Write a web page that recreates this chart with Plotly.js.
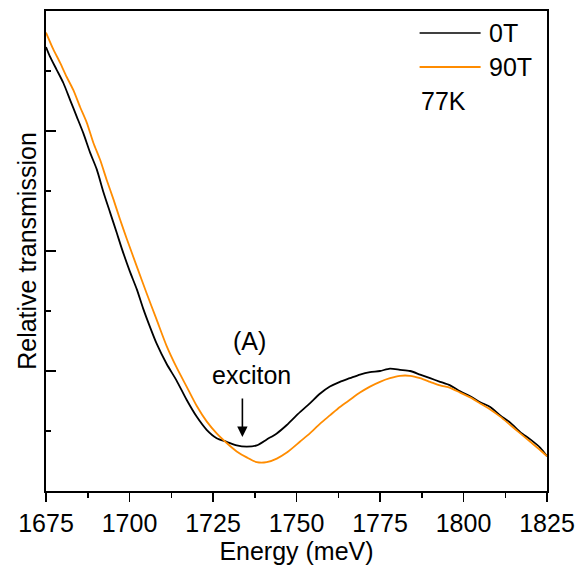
<!DOCTYPE html>
<html>
<head>
<meta charset="utf-8">
<script src="https://cdn.plot.ly/plotly-3.0.1.min.js"></script>
<style>html,body{margin:0;padding:0;background:#fff;}#chart{width:579px;height:566px;}</style>
</head>
<body>
<div id="chart"></div>
<script>
// Energy (meV) and relative transmission
var energy0T = [1675,1676.2,1678.2,1680.2,1682.2,1684.2,1686.2,1688.2,1690.2,1692.2,1694.2,1696.2,1697.7,1700.1,1702.2,1704.1,1706.1,1708.1,1711.1,1714.1,1717.1,1720.1,1723.1,1726.1,1729.1,1732.1,1735.1,1738.1,1741.1,1744.1,1747.1,1750,1754,1757,1760,1763,1766,1769,1772,1775,1778,1781,1784,1787,1790,1793,1796,1799,1802,1805,1808,1811,1814,1817,1820,1823,1825];
var trans0T = [3.70,3.62,3.51,3.40,3.26,3.12,2.98,2.82,2.68,2.49,2.32,2.15,2.02,1.83,1.68,1.52,1.37,1.23,1.06,0.92,0.76,0.62,0.51,0.44,0.41,0.38,0.37,0.38,0.43,0.48,0.55,0.63,0.73,0.81,0.87,0.91,0.94,0.97,0.99,1.00,1.02,1.01,1.00,0.97,0.94,0.91,0.88,0.83,0.79,0.74,0.70,0.63,0.57,0.49,0.43,0.36,0.29];
var energy90T = [1675,1677.2,1679.2,1681.2,1683.2,1685.2,1687.2,1689.2,1691.2,1693.2,1695.2,1697.2,1699.2,1702.2,1705.1,1708.1,1711.1,1714.1,1717.1,1720.1,1723.1,1726.1,1729.1,1732.1,1735.1,1738.1,1741.1,1744.1,1747.1,1751,1754,1757,1760,1763,1766,1769,1772,1775,1778,1781,1784,1787,1790,1793,1796,1799,1802,1805,1808,1811,1814,1817,1820,1823,1825];
var trans90T = [3.82,3.68,3.57,3.45,3.34,3.20,3.07,2.90,2.76,2.59,2.43,2.26,2.10,1.87,1.65,1.43,1.21,1.03,0.87,0.71,0.58,0.48,0.40,0.33,0.28,0.24,0.24,0.27,0.32,0.41,0.48,0.56,0.63,0.70,0.76,0.82,0.87,0.91,0.94,0.96,0.96,0.94,0.91,0.88,0.86,0.82,0.78,0.73,0.68,0.62,0.55,0.48,0.41,0.34,0.29];
var seriesNames = ['0T', '90T'];
var xTickVals = [1675,1700,1725,1750,1775,1800,1825];
var xTickText = ['1675','1700','1725','1750','1775','1800','1825'];

var FONT = 'Liberation Sans, Arial, sans-serif';
var C0 = '#000000', C1 = '#ff8c00';

var traces = [
  {x: energy0T, y: trans0T, type: 'scatter', mode: 'lines', name: seriesNames[0],
   line: {color: C0, width: 1.8, shape: 'spline', smoothing: 0.7}, showlegend: false},
  {x: energy90T, y: trans90T, type: 'scatter', mode: 'lines', name: seriesNames[1],
   line: {color: C1, width: 1.8, shape: 'spline', smoothing: 0.7}, showlegend: false}
];

var layout = {
  width: 579, height: 566,
  margin: {l: 46, r: 32, t: 11, b: 75},
  paper_bgcolor: '#fff', plot_bgcolor: '#fff',
  font: {family: FONT, size: 25, color: '#000'},
  showlegend: false,
  xaxis: {
    range: [1675, 1825], tickmode: 'array', tickvals: xTickVals, ticktext: xTickText,
    ticks: 'outside', ticklen: 9, tickwidth: 1.5, tickcolor: '#000',
    minor: {dtick: 12.5, ticks: 'outside', ticklen: 5, tickwidth: 1.5, tickcolor: '#000'},
    showline: true, linewidth: 2, linecolor: '#000', mirror: true,
    showgrid: false, zeroline: false,
    tickfont: {family: FONT, size: 25, color: '#000'},
    title: {text: 'Energy (meV)', font: {family: FONT, size: 25, color: '#000'}, standoff: 6}
  },
  yaxis: {
    range: [0, 4], dtick: 1, tick0: 0,
    ticks: 'inside', ticklen: 10, tickwidth: 1.5, tickcolor: '#000',
    minor: {dtick: 0.5, ticks: 'inside', ticklen: 5, tickwidth: 1.5, tickcolor: '#000'},
    showticklabels: false,
    showline: true, linewidth: 2, linecolor: '#000', mirror: true,
    showgrid: false, zeroline: false,
    title: {text: 'Relative transmission', font: {family: FONT, size: 25, color: '#000'}, standoff: 0}
  },
  shapes: [
    {type: 'line', xref: 'paper', yref: 'paper', x0: 0.7457, x1: 0.8675, y0: 0.9542, y1: 0.9542,
     line: {color: C0, width: 1.6}},
    {type: 'line', xref: 'paper', yref: 'paper', x0: 0.7457, x1: 0.8675, y0: 0.8833, y1: 0.8833,
     line: {color: C1, width: 2}}
  ],
  annotations: [
    {xref: 'paper', yref: 'paper', x: 0.8795, y: 0.9542, xanchor: 'left', yanchor: 'middle',
     text: seriesNames[0], showarrow: false, font: {family: FONT, size: 25, color: '#000'}},
    {xref: 'paper', yref: 'paper', x: 0.8795, y: 0.8833, xanchor: 'left', yanchor: 'middle',
     text: seriesNames[1], showarrow: false, font: {family: FONT, size: 25, color: '#000'}},
    {xref: 'paper', yref: 'paper', x: 0.7437, y: 0.8125, xanchor: 'left', yanchor: 'middle',
     text: '77K', showarrow: false, font: {family: FONT, size: 25, color: '#000'}},
    {x: 1735.8, y: 1.25, text: '(A)', showarrow: false, xanchor: 'center', yanchor: 'middle',
     font: {family: FONT, size: 25, color: '#000'}},
    {x: 1736.6, y: 0.97, text: 'exciton', showarrow: false, xanchor: 'center', yanchor: 'middle',
     font: {family: FONT, size: 25, color: '#000'}},
    {x: 1733.8, y: 0.45, text: '', showarrow: true, ax: 0, ay: -40,
     arrowhead: 2, arrowsize: 1.3, arrowwidth: 1.6, arrowcolor: '#000'}
  ]
};

Plotly.newPlot('chart', traces, layout, {staticPlot: true, displayModeBar: false});
</script>
</body>
</html>
